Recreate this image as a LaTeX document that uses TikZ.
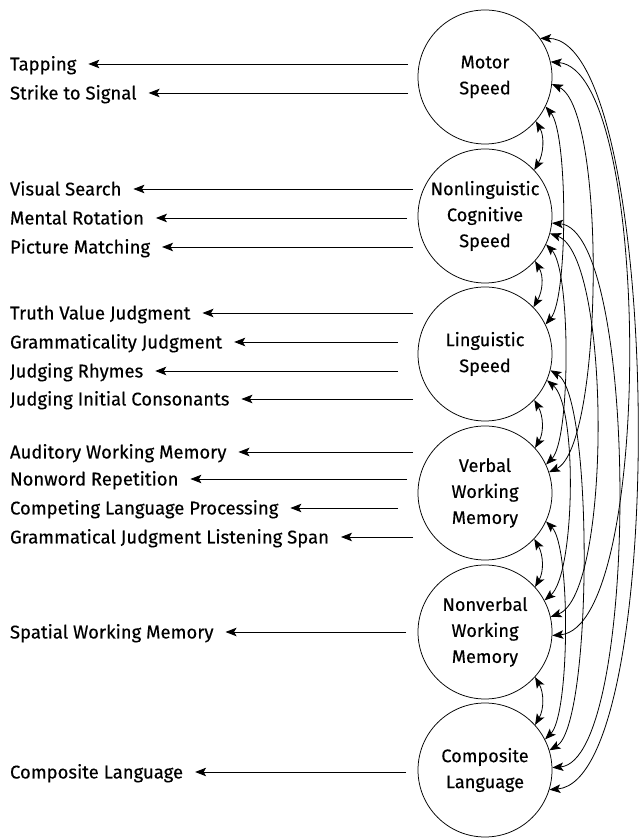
\documentclass[tikz,border=0pt]{standalone}
\usepackage{fontspec}
\setmainfont{Fira Sans}[FakeBold=0.3]
\usetikzlibrary{arrows.meta}
\begin{document}
\begin{tikzpicture}[x=1pt,y=1pt,
  factor/.style={circle,draw,line width=0.75pt,minimum size=134pt,inner sep=0pt,align=center,font=\fontsize{18.2}{26}\selectfont},
  meas/.style={anchor=base west,inner sep=0pt,outer xsep=12pt,font=\fontsize{18.5}{22}\selectfont},
  larr/.style={line width=0.85pt,-{Stealth[length=11pt,width=8.5pt,inset=2.5pt]}},
  darr/.style={line width=0.8pt,{Stealth[length=11pt,width=8.5pt,inset=2.5pt]}-{Stealth[length=11pt,width=8.5pt,inset=2.5pt]}}
]
\useasboundingbox (0,0) rectangle (640,840);
% factors
\node[factor] (M) at (485,763) {Motor\\Speed};
\node[factor] (NL) at (485,624) {Nonlinguistic\\Cognitive\\Speed};
\node[factor] (L) at (485,486) {Linguistic\\Speed};
\node[factor] (V) at (485,347) {Verbal\\Working\\Memory};
\node[factor] (NV) at (485,208) {Nonverbal\\Working\\Memory};
\node[factor] (C) at (485,70) {Composite\\Language};
% measures (outer xsep shifts the west anchor by 12pt, so x = 10 - 12)
\node[meas] (t1) at (-2,769.5) {Tapping};
\node[meas] (t2) at (-2,740.5) {Strike to Signal};
\node[meas] (t3) at (-2,644.5) {Visual Search};
\node[meas] (t4) at (-2,615.5) {Mental Rotation};
\node[meas] (t5) at (-2,586.5) {Picture Matching};
\node[meas] (t6) at (-2,520.5) {Truth Value Judgment};
\node[meas] (t7) at (-2,491.5) {Grammaticality Judgment};
\node[meas] (t8) at (-2,462.5) {Judging Rhymes};
\node[meas] (t9) at (-2,434.5) {Judging Initial Consonants};
\node[meas] (t10) at (-2,381.5) {Auditory Working Memory};
\node[meas] (t11) at (-2,354.5) {Nonword Repetition};
\node[meas] (t12) at (-2,325.5) {Competing Language Processing};
\node[meas] (t13) at (-2,296.5) {Grammatical Judgment Listening Span};
\node[meas] (t14) at (-2,201.5) {Spatial Working Memory};
\node[meas] (t15) at (-2,61.5) {Composite Language};
% starts of indicator arrows
\coordinate (s1) at (408,776);
\coordinate (s2) at (408,747);
\coordinate (s3) at (413,651);
\coordinate (s4) at (407,622);
\coordinate (s5) at (413,593);
\coordinate (s6) at (413,527);
\coordinate (s7) at (398,498);
\coordinate (s8) at (398,469);
\coordinate (s9) at (413,441);
\coordinate (s10) at (413,388);
\coordinate (s11) at (407,361);
\coordinate (s12) at (398,332);
\coordinate (s13) at (413,303);
\coordinate (s14) at (406,208);
\coordinate (s15) at (406,68);
\foreach \i in {1,...,15}{\draw[larr] (s\i) -- (s\i -| t\i.east);}
% adjacent correlations
\draw[darr] (M.-41) .. controls +(-60:18) and +(60:18) .. (NL.43);
\draw[darr] (NL.-42) .. controls +(-60:18) and +(60:18) .. (L.44);
\draw[darr] (L.-43) .. controls +(-60:18) and +(60:18) .. (V.42);
\draw[darr] (V.-43) .. controls +(-60:18) and +(60:18) .. (NV.42);
\draw[darr] (NV.-42) .. controls +(-60:18) and +(60:18) .. (C.42);
% long correlations
\draw[darr] (M.35) .. controls +(0:122) and +(5:122) .. (C.-17);
\draw[darr] (M.13) .. controls +(-5:102) and +(5:102) .. (NV.-3);
\draw[darr] (NL.-6) .. controls +(-5:88) and +(5:88) .. (C.2);
\draw[darr] (NL.-15) .. controls +(-20:65) and +(20:65) .. (NV.13);
\draw[darr] (L.-14) .. controls +(-30:50) and +(30:50) .. (C.17);
\draw[darr] (M.-6) .. controls +(-25:60) and +(25:60) .. (V.18);
\draw[darr] (L.-23) .. controls +(-40:40) and +(40:40) .. (NV.28);
\draw[darr] (NL.-25) .. controls +(-45:35) and +(45:35) .. (V.25);
\draw[darr] (M.-26) .. controls +(-50:35) and +(50:35) .. (L.26);
\draw[darr] (V.-25) .. controls +(-45:35) and +(45:35) .. (C.27);
\end{tikzpicture}
\end{document}
